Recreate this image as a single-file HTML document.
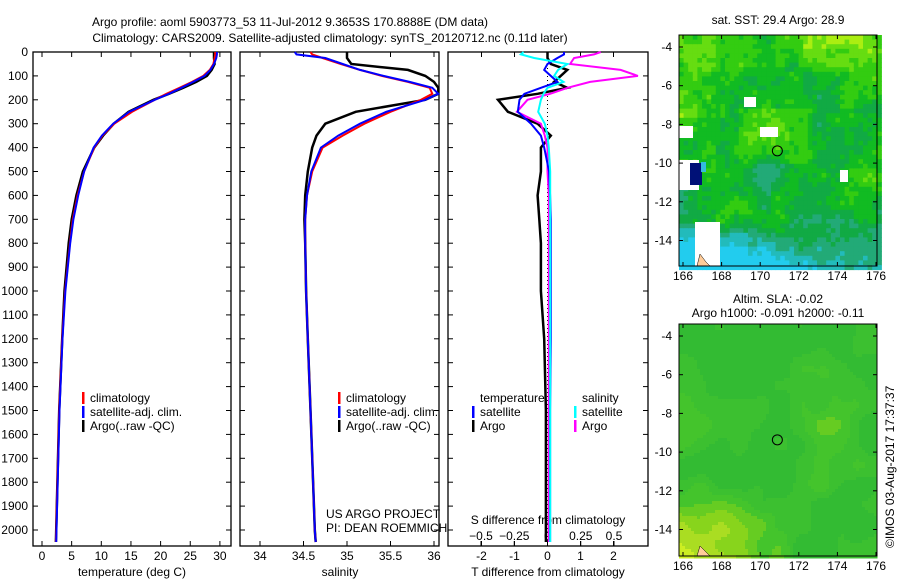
<!DOCTYPE html>
<html><head><meta charset="utf-8"><style>
body{margin:0;background:#fff;width:900px;height:580px;overflow:hidden}
svg text{font-family:"Liberation Sans",sans-serif;font-size:12px;fill:#000}
</style></head><body>
<svg id="fig" width="900" height="580" xmlns="http://www.w3.org/2000/svg">
<text x="290" y="26" text-anchor="middle" font-size="13">Argo profile: aoml 5903773_53 11-Jul-2012 9.3653S 170.8888E (DM data)</text>
<text x="330" y="42" text-anchor="middle" font-size="13">Climatology: CARS2009. Satellite-adjusted climatology: synTS_20120712.nc (0.11d later)</text>
<g id="g"></g>
<text x="778" y="24" text-anchor="middle">sat. SST: 29.4  Argo: 28.9</text>
<text x="778" y="303" text-anchor="middle">Altim. SLA: -0.02</text>
<text x="778" y="317" text-anchor="middle">Argo h1000: -0.091 h2000: -0.11</text>
<text transform="translate(894,548) rotate(-90)" font-size="11">©IMOS 03-Aug-2017 17:37:37</text>
<text x="326" y="518">US ARGO PROJECT</text>
<text x="326" y="532">PI: DEAN ROEMMICH</text>
</svg>
<script>
// shared depth grid (m)
const depths=[0,10,25,50,75,100,125,150,175,200,250,300,350,400,500,600,700,800,1000,1200,1500,1800,2000,2050];
const tempClim=[29.2,29.2,29.1,28.9,28.3,27.2,25.3,23.2,21.0,19.0,15.2,12.2,10.2,8.8,7.1,6.0,5.2,4.7,3.9,3.4,2.9,2.6,2.4,2.35];
const tempSat =[29.5,29.5,29.4,29.0,28.4,27.4,25.5,23.5,21.4,19.0,14.7,12.0,10.1,8.7,7.1,6.1,5.3,4.75,3.95,3.45,2.95,2.65,2.45,2.4];
const tempArgo=[29.0,29.0,29.0,29.1,28.6,27.8,26.0,23.8,21.4,18.8,14.6,12.1,10.3,8.8,6.9,5.8,5.0,4.5,3.8,3.4,2.9,2.6,2.4,2.35];
const salClim=[34.58,34.6,34.72,34.93,35.15,35.4,35.7,35.95,35.98,35.85,35.5,35.2,34.95,34.72,34.6,34.54,34.52,34.52,34.53,34.55,34.58,34.61,34.63,34.64];
const salSat =[34.40,34.42,34.75,34.95,35.15,35.42,35.72,35.98,36.05,35.9,35.45,35.15,34.9,34.7,34.59,34.54,34.52,34.52,34.53,34.55,34.58,34.61,34.63,34.64];
const salArgo=[35.0,35.0,35.0,35.05,35.7,35.9,36.0,36.05,36.05,35.9,35.1,34.75,34.65,34.6,34.55,34.52,34.51,34.52,34.53,34.55,34.58,34.61,34.63,34.64];
const dTsat =[0.5,0.5,0.3,0.0,-0.1,0.1,0.3,-0.2,-0.7,-0.85,-0.9,-0.5,-0.2,-0.1,0.05,0.08,0.1,0.1,0.1,0.1,0.08,0.08,0.08,0.08];
const dTargo=[0.0,0.0,0.0,0.1,0.6,0.4,0.2,0.6,-0.3,-1.5,-1.2,-0.3,0.1,-0.2,-0.2,-0.3,-0.25,-0.2,-0.2,-0.1,-0.05,-0.05,-0.05,-0.05];
const dSsat =[-0.18,-0.2,-0.1,0.15,0.08,0.05,0.12,0.0,-0.03,-0.05,-0.07,-0.02,0.0,0.01,0.02,0.02,0.02,0.02,0.02,0.02,0.02,0.02,0.02,0.02];
const dSargo=[0.4,0.35,0.2,0.17,0.55,0.68,0.32,0.15,0.02,-0.15,-0.23,-0.05,-0.02,0.0,0.0,0.01,0.01,0.01,0.01,0.01,0.01,0.01,0.01,0.01];
const depthTicks=[0,100,200,300,400,500,600,700,800,900,1000,1100,1200,1300,1400,1500,1600,1700,1800,1900,2000];
const tTicks=[0,5,10,15,20,25,30];
const sTicks=[34,34.5,35,35.5,36];
const dTTicks=[-2,-1,0,1,2];
const dSTicks=[-0.5,-0.25,0,0.25,0.5];
const latTicks=[-4,-6,-8,-10,-12,-14];
const lonTicks=[166,168,170,172,174,176];

const NS="http://www.w3.org/2000/svg",G=document.getElementById('g');
function el(t,a,p){const e=document.createElementNS(NS,t);for(const k in a)e.setAttribute(k,a[k]);(p||G).appendChild(e);return e;}
function tx(x,y,s,anchor,p){const e=el('text',{x:x,y:y,'text-anchor':anchor||'middle'},p);e.textContent=s;return e;}
const yD=d=>52+d*0.239;
function panel(name,x0,x1){
  const g=el('g',{});
  
  
  el('rect',{x:x0,y:52,width:x1-x0,height:494,fill:'none',stroke:'#000','stroke-width':1.3},g);
  depthTicks.forEach(d=>{el('line',{x1:x0,x2:x0+5,y1:yD(d),y2:yD(d),stroke:'#000'},g);el('line',{x1:x1,x2:x1-5,y1:yD(d),y2:yD(d),stroke:'#000'},g);});
  return g;
}
function line(g,xs,xf,col,name,w){
  const pts=depths.map((d,i)=>xf(xs[i]).toFixed(1)+','+yD(d).toFixed(1)).join(' ');
  const p=el('polyline',{points:pts,fill:'none',stroke:col,'stroke-width':w||2},g);
  
  
}
function xticks(g,ticks,f,y0,y1,fmt,ly){ticks.forEach(t=>{const x=f(t);el('line',{x1:x,x2:x,y1:y0,y2:y0-5,stroke:'#000'},g);el('line',{x1:x,x2:x,y1:y1,y2:y1+5,stroke:'#000'},g);if(ly)tx(x,ly,fmt?fmt(t):String(t),'middle',g);});}
function legend(g,x,y,items){items.forEach((it,i)=>{el('rect',{x:x,y:y+i*14-10,width:2.5,height:12,fill:it[1]},g);tx(x+8,y+i*14,it[0],'start',g);});}

const xT=v=>42+v*5.93;
const p1=panel('temperature-panel',33,231);
depthTicks.forEach(d=>tx(28,yD(d)+4,String(d),'end',p1));
xticks(p1,tTicks,xT,546,52,null,560);
tx(132,576,'temperature (deg C)','middle',p1);
line(p1,tempArgo,xT,'#000','temp-argo-line',2.5);
line(p1,tempClim,xT,'#f00','temp-clim-line');
line(p1,tempSat,xT,'#00f','temp-sat-line');
legend(p1,82,402,[['climatology','#f00'],['satellite-adj. clim.','#00f'],['Argo(..raw -QC)','#000']]);
const xS=v=>260+(v-34)*87;
const p2=panel('salinity-panel',240,439);
xticks(p2,sTicks,xS,546,52,null,560);
tx(340,576,'salinity','middle',p2);
line(p2,salArgo,xS,'#000','sal-argo-line',2.5);
line(p2,salClim,xS,'#f00','sal-clim-line');
line(p2,salSat,xS,'#00f','sal-sat-line');
legend(p2,338,402,[['climatology','#f00'],['satellite-adj. clim.','#00f'],['Argo(..raw -QC)','#000']]);
const xdT=v=>547.5+v*33;
const xdS=v=>547.5+v*133;
const p3=panel('difference-panel',448,648);
el('line',{x1:547.5,x2:547.5,y1:52,y2:546,stroke:'#000','stroke-dasharray':'1,3'},p3);
xticks(p3,dTTicks,xdT,546,52,null,560);
tx(548,576,'T difference from climatology','middle',p3);
tx(548,524,'S difference from climatology','middle',p3);
dSTicks.forEach(t=>{const x=xdS(t);el('line',{x1:x,x2:x,y1:546,y2:541,stroke:'#000'},p3);tx(x,540,String(t).replace('-','\u2212'),'middle',p3);});
line(p3,dTargo,xdT,'#000','dT-argo-line',2.5);
line(p3,dSargo,xdS,'#f0f','dS-argo-line');
line(p3,dTsat,xdT,'#00f','dT-sat-line');
line(p3,dSsat,xdS,'#0ff','dS-sat-line');
tx(480,402,'temperature','start',p3);
legend(p3,472,416,[['satellite','#00f'],['Argo','#000']]);
tx(582,402,'salinity','start',p3);
legend(p3,574,416,[['satellite','#0ff'],['Argo','#f0f']]);

// maps (texture via smooth value noise)
function hash(i,j,s){let h=Math.sin(i*127.1+j*311.7+s*74.7)*43758.5453;return h-Math.floor(h);}
function vn(x,y,sc,s){const fx=x/sc,fy=y/sc,i=Math.floor(fx),j=Math.floor(fy);let u=fx-i,v=fy-j;u=u*u*(3-2*u);v=v*v*(3-2*v);
  const a=hash(i,j,s),b=hash(i+1,j,s),c=hash(i,j+1,s),d=hash(i+1,j+1,s);return a+(b-a)*u+(c-a)*v+(a-b-c+d)*u*v;}
const sstPal=['#22ccee','#22bbbb','#22aa77','#11aa44','#11bb22','#33cc11','#66dd11','#aaee11'];
const slaPal=['#33bb33','#3cc030','#44c42c','#66cc22','#88d41c','#aadd22','#ccee22'];
function map(name,y0,y1,kind){
  const x0=679,x1=877;
  const g=el('g',{});
  
  
  const cs=kind?4.6:3;
  for(let i=0;i*cs<x1-x0;i++)for(let j=0;j*cs<y1-y0;j++){
    const px=i*cs,py=j*cs,fx=px/(x1-x0),fy=py/(y1-y0);let c;
    if(kind){
      let v=0.55*vn(px,py,45,1)+0.3*vn(px,py,14,2)+0.15*hash(i,j,3);
      v+=(0.3-fy)*0.4;
      if(fy>0.78) v-=(fy-0.78)*4.5*(1-fx*0.7);
      if(fx<0.45&&fy>0.35&&fy<0.78) v-=0.18*(1-fx/0.45);
      if(fx>0.3&&fx<0.65&&fy>0.3&&fy<0.55) v+=0.12;
      const k=Math.max(0,Math.min(7,Math.floor(v*6.5)+2));
      c=sstPal[k];
    } else {
      let v=0.6*vn(px,py,50,5)+0.4*vn(px,py,20,6)-0.2;
      if(fy>0.6&&fx<0.6) v+=(fy-0.6)*3*(1-fx/0.6);
      const k=Math.max(0,Math.min(6,Math.floor(v*5)));
      c=slaPal[k];
    }
    el('rect',{x:x0+px,y:y0+py,width:cs+0.5,height:cs+0.5,fill:c},g);
  }
  if(kind){
    el('rect',{x:679,y:126,width:14,height:12,fill:'#fff'},g);
    el('rect',{x:744,y:97,width:12,height:10,fill:'#fff'},g);
    el('rect',{x:760,y:127,width:18,height:10,fill:'#fff'},g);
    el('rect',{x:679,y:160,width:20,height:30,fill:'#fff'},g);
    el('rect',{x:690,y:163,width:12,height:22,fill:'#001177'},g);
    el('rect',{x:701,y:162,width:5,height:10,fill:'#33bbdd'},g);
    el('rect',{x:840,y:170,width:8,height:12,fill:'#fff'},g);
    el('rect',{x:695,y:222,width:25,height:44,fill:'#fff'},g);
    el('path',{d:'M697 266 L700 254 L706 262 L710 266 Z',fill:'#ffcc99',stroke:'#000','stroke-width':0.5},g);
  } else {
    el('path',{d:'M697 556 L700 546 L706 552 L710 556 Z',fill:'#ffcc99',stroke:'#000','stroke-width':0.5},g);
  }
  el('rect',{x:x0,y:y0,width:x1-x0,height:y1-y0,fill:'none',stroke:'#000'},g);
  const yL=l=>(kind?47:336)+(-4-l)*19.35;
  latTicks.forEach(l=>{const y=yL(l);el('line',{x1:x0,x2:x0+4,y1:y,y2:y,stroke:'#000'},g);el('line',{x1:x1,x2:x1-4,y1:y,y2:y,stroke:'#000'},g);tx(672,y+4,String(l),'end',g);});
  const xL=l=>683+(l-166)*19.3;
  lonTicks.forEach(l=>{const x=xL(l);el('line',{x1:x,x2:x,y1:y0,y2:y0+4,stroke:'#000'},g);el('line',{x1:x,x2:x,y1:y1,y2:y1-4,stroke:'#000'},g);tx(x,y1+14,String(l),'middle',g);});
  const c=el('circle',{cx:xL(170.889),cy:yL(-9.365),r:5,fill:'none',stroke:'#000'},g);
  
  
}
map('sst-map',35,266,1);
map('sla-map',324,556,0);
</script>
</body></html>
